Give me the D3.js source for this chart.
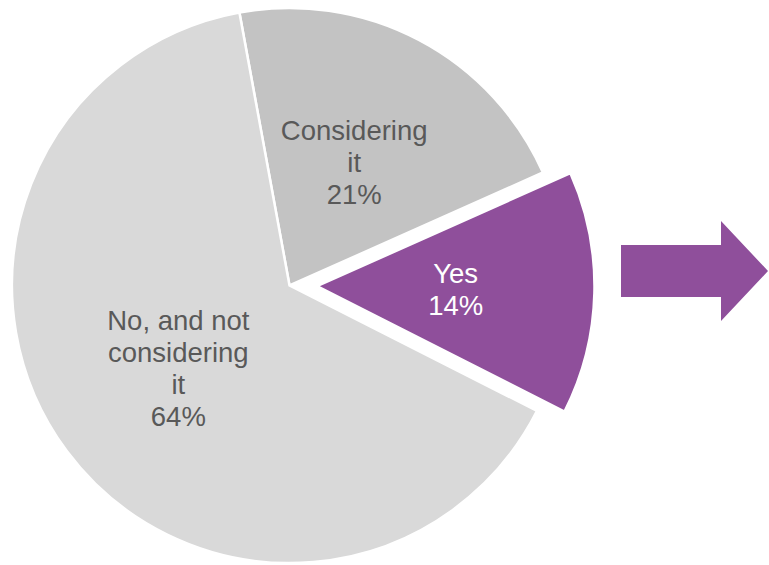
<!DOCTYPE html>
<html>
<head>
<meta charset="utf-8">
<script src="https://cdn.jsdelivr.net/npm/d3@7"></script>
<style>
  html, body { margin: 0; padding: 0; background: #ffffff; }
  svg { display: block; }
</style>
</head>
<body>
<svg id="chart" width="769" height="565"></svg>
<script>
// Survey answers, in drawing order (clockwise from the top)
const categories = ["Considering it", "Yes", "No, and not considering it"];
const values = [21, 14, 64];
const labelLines = [["Considering", "it", "21%"], ["Yes", "14%"], ["No, and not", "considering", "it", "64%"]];
const sliceColors = ["#c3c3c3", "#8f4f9b", "#d9d9d9"];
const labelColors = ["#595959", "#ffffff", "#595959"];
const explodedCategory = "Yes";

const data = categories.map((c, i) => ({ category: c, value: values[i], lines: labelLines[i], color: sliceColors[i], textColor: labelColors[i] }));

const svg = d3.select("#chart");
const cx = 289.5, cy = 285.5, radius = 277.5;
const explodeDist = 27.5;
const fontSize = 27.5, lineHeight = 32;

const pie = d3.pie()
  .sort(null)
  .value(d => d.value)
  .startAngle(-10.4 * Math.PI / 180)
  .endAngle((360 - 10.4) * Math.PI / 180);

const arc = d3.arc().innerRadius(0).outerRadius(radius);

const arcs = pie(data);

const g = svg.append("g").attr("transform", `translate(${cx},${cy})`);

function offset(d) {
  if (d.data.category !== explodedCategory) return [0, 0];
  const mid = (d.startAngle + d.endAngle) / 2;
  return [Math.sin(mid) * explodeDist, -Math.cos(mid) * explodeDist];
}

const slices = g.selectAll("g.slice")
  .data(arcs)
  .enter().append("g")
  .attr("class", "slice")
  .attr("transform", d => { const o = offset(d); return `translate(${o[0]},${o[1]})`; });

slices.append("path")
  .attr("d", arc)
  .attr("fill", d => d.data.color)
  .attr("stroke", "#ffffff")
  .attr("stroke-width", 2.5)
  .attr("stroke-linejoin", "miter");

slices.append("text")
  .attr("transform", d => { const c = arc.centroid(d); return `translate(${c[0]},${c[1]})`; })
  .attr("text-anchor", "middle")
  .attr("font-family", "'Liberation Sans', Arial, sans-serif")
  .attr("font-size", fontSize)
  .attr("fill", d => d.data.textColor)
  .each(function(d) {
    const n = d.data.lines.length;
    d3.select(this).selectAll("tspan")
      .data(d.data.lines)
      .enter().append("tspan")
      .attr("x", 0)
      .attr("y", (t, i) => (i - (n - 1) / 2) * lineHeight + 0.35 * fontSize)
      .text(t => t);
  });

// Block arrow pointing right
const ax0 = 621, axHead = 721, axTip = 768, ay = 271;
const shaftHalf = 26, headHalf = 50;
svg.append("path")
  .attr("d", d3.line()([
    [ax0, ay - shaftHalf], [axHead, ay - shaftHalf], [axHead, ay - headHalf],
    [axTip, ay], [axHead, ay + headHalf], [axHead, ay + shaftHalf], [ax0, ay + shaftHalf]
  ]) + "Z")
  .attr("fill", "#8f4f9b");
</script>
</body>
</html>
